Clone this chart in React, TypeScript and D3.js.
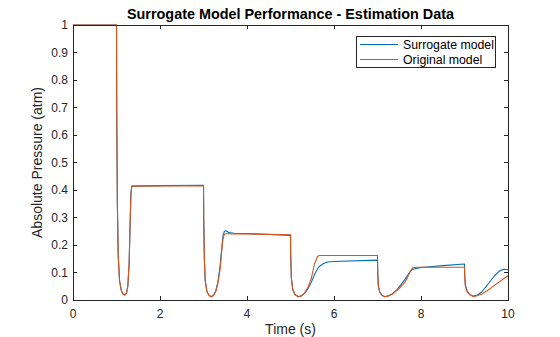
import React from "react";
import * as d3 from "d3";

const time = [
  0, 0.98, 1.0, 1.005, 1.02, 1.04, 1.07, 1.11, 1.15, 1.19, 1.23, 1.26, 1.29, 1.31, 1.33, 1.35, 2.0, 2.99,
  3.0, 3.005, 3.02, 3.04, 3.08, 3.13, 3.18, 3.23, 3.28, 3.33, 3.38, 3.42, 3.45, 3.48, 3.52, 3.58, 3.7, 4.0, 4.99,
  5.0, 5.005, 5.02, 5.05, 5.1, 5.18, 5.25, 5.32, 5.4, 5.48, 5.55, 5.62, 5.66, 5.75, 5.85, 6.0, 6.99,
  7.0, 7.005, 7.02, 7.05, 7.1, 7.17, 7.25, 7.35, 7.45, 7.55, 7.63, 7.7, 7.76, 7.81, 7.9, 8.0, 8.5, 8.99,
  9.0, 9.005, 9.02, 9.06, 9.12, 9.2, 9.3, 9.4, 9.5, 9.6, 9.7, 9.8, 9.9, 10.0,
];

const original = [
  1, 1, 1, 0.7, 0.35, 0.16, 0.07, 0.035, 0.022, 0.018, 0.025, 0.05, 0.13, 0.26, 0.38, 0.414, 0.415, 0.415,
  0.415, 0.3, 0.15, 0.07, 0.03, 0.016, 0.012, 0.016, 0.03, 0.06, 0.11, 0.18, 0.225, 0.24, 0.241, 0.241, 0.24, 0.24, 0.237,
  0.237, 0.16, 0.08, 0.04, 0.02, 0.012, 0.015, 0.025, 0.045, 0.08, 0.13, 0.158, 0.162, 0.162, 0.162, 0.162, 0.162,
  0.162, 0.1, 0.05, 0.03, 0.017, 0.012, 0.015, 0.022, 0.035, 0.05, 0.065, 0.085, 0.105, 0.117, 0.119, 0.119, 0.119, 0.119,
  0.119, 0.08, 0.05, 0.03, 0.02, 0.013, 0.016, 0.022, 0.032, 0.042, 0.055, 0.066, 0.077, 0.088,
];

const surrogate = [
  1, 1, 1, 0.7, 0.35, 0.16, 0.07, 0.035, 0.022, 0.018, 0.025, 0.05, 0.13, 0.26, 0.38, 0.414, 0.416, 0.417,
  0.417, 0.3, 0.15, 0.07, 0.03, 0.016, 0.012, 0.017, 0.032, 0.065, 0.12, 0.19, 0.235, 0.25, 0.252, 0.245, 0.243, 0.242, 0.235,
  0.235, 0.16, 0.08, 0.04, 0.02, 0.012, 0.015, 0.024, 0.04, 0.065, 0.092, 0.113, 0.122, 0.132, 0.138, 0.14, 0.145,
  0.145, 0.1, 0.05, 0.03, 0.017, 0.012, 0.015, 0.024, 0.038, 0.058, 0.075, 0.092, 0.105, 0.112, 0.115, 0.118, 0.125, 0.131,
  0.131, 0.09, 0.055, 0.032, 0.02, 0.014, 0.018, 0.03, 0.05, 0.07, 0.09, 0.105, 0.112, 0.11,
];

const xTicks = [0, 2, 4, 6, 8, 10];
const yTicks = [0, 0.1, 0.2, 0.3, 0.4, 0.5, 0.6, 0.7, 0.8, 0.9, 1];
const seriesNames = ["Surrogate model", "Original model"];
const seriesColors = ["#0072BD", "#D95319"];

const W = 560;
const H = 337;
const M = { left: 73, right: 52, top: 25, bottom: 37 };
const FONT = "'Liberation Sans', Arial, sans-serif";
const AX = "#262626";

export default function App() {
  const x = d3.scaleLinear().domain([0, 10]).range([M.left, W - M.right]);
  const y = d3.scaleLinear().domain([0, 1]).range([H - M.bottom, M.top]);
  const line = d3
    .line<number>()
    .x((_, i) => x(time[i]))
    .y((d) => y(d));
  const [x0, x1] = x.range();
  const [y0, y1] = y.range();
  const tl = 4.4;
  const series = [surrogate, original];

  const lgX = 356;
  const lgY = 36;
  return (
    <svg
      width={W}
      height={H}
      style={{ position: "absolute", left: 0, top: 0, background: "#fff" }}
      fontFamily={FONT}
    >
      <rect x={0} y={0} width={W} height={H} fill="#fff" />
      <rect x={x0} y={y1} width={x1 - x0} height={y0 - y1} fill="#fff" />
      <defs>
        <clipPath id="clip">
          <rect x={x0} y={y1 - 1} width={x1 - x0} height={y0 - y1 + 2} />
        </clipPath>
      </defs>
      <g clipPath="url(#clip)">
        {series.map((s, k) => (
          <path
            key={k}
            d={line(s) || ""}
            fill="none"
            stroke={seriesColors[k]}
            strokeWidth={1.1}
            strokeLinejoin="round"
          />
        ))}
      </g>
      <rect x={x0} y={y1} width={x1 - x0} height={y0 - y1} fill="none" stroke={AX} strokeWidth={1} shapeRendering="crispEdges" />
      {xTicks.map((t) => (
        <g key={"x" + t}>
          <line x1={x(t)} x2={x(t)} y1={y0} y2={y0 - tl} stroke={AX} shapeRendering="crispEdges" />
          <line x1={x(t)} x2={x(t)} y1={y1} y2={y1 + tl} stroke={AX} shapeRendering="crispEdges" />
          <text x={x(t)} y={y0 + 17.5} textAnchor="middle" fontSize={12} fill={AX}>
            {t}
          </text>
        </g>
      ))}
      {yTicks.map((t) => (
        <g key={"y" + t}>
          <line x1={x0} x2={x0 + tl} y1={y(t)} y2={y(t)} stroke={AX} shapeRendering="crispEdges" />
          <line x1={x1} x2={x1 - tl} y1={y(t)} y2={y(t)} stroke={AX} shapeRendering="crispEdges" />
          <text x={x0 - 5} y={y(t) + 4.3} textAnchor="end" fontSize={12} fill={AX}>
            {t}
          </text>
        </g>
      ))}
      <text x={(x0 + x1) / 2} y={19} textAnchor="middle" fontSize={14.4} fontWeight="bold" fill="#000">
        Surrogate Model Performance - Estimation Data
      </text>
      <text x={(x0 + x1) / 2} y={333.5} textAnchor="middle" fontSize={14} fill={AX}>
        Time (s)
      </text>
      <text
        transform={`translate(42,${(y0 + y1) / 2}) rotate(-90)`}
        textAnchor="middle"
        fontSize={14}
        fill={AX}
      >
        Absolute Pressure (atm)
      </text>
      <rect x={lgX} y={lgY} width={139} height={31} fill="#fff" stroke={AX} strokeWidth={1} shapeRendering="crispEdges" />
      {seriesNames.map((n, i) => (
        <g key={n}>
          <line
            x1={lgX + 4}
            x2={lgX + 42}
            y1={lgY + 8.5 + i * 15}
            y2={lgY + 8.5 + i * 15}
            stroke={seriesColors[i]}
            strokeWidth={1.1}
          />
          <text x={lgX + 47} y={lgY + 12.8 + i * 15} fontSize={12.3} fill="#000">
            {n}
          </text>
        </g>
      ))}
    </svg>
  );
}
